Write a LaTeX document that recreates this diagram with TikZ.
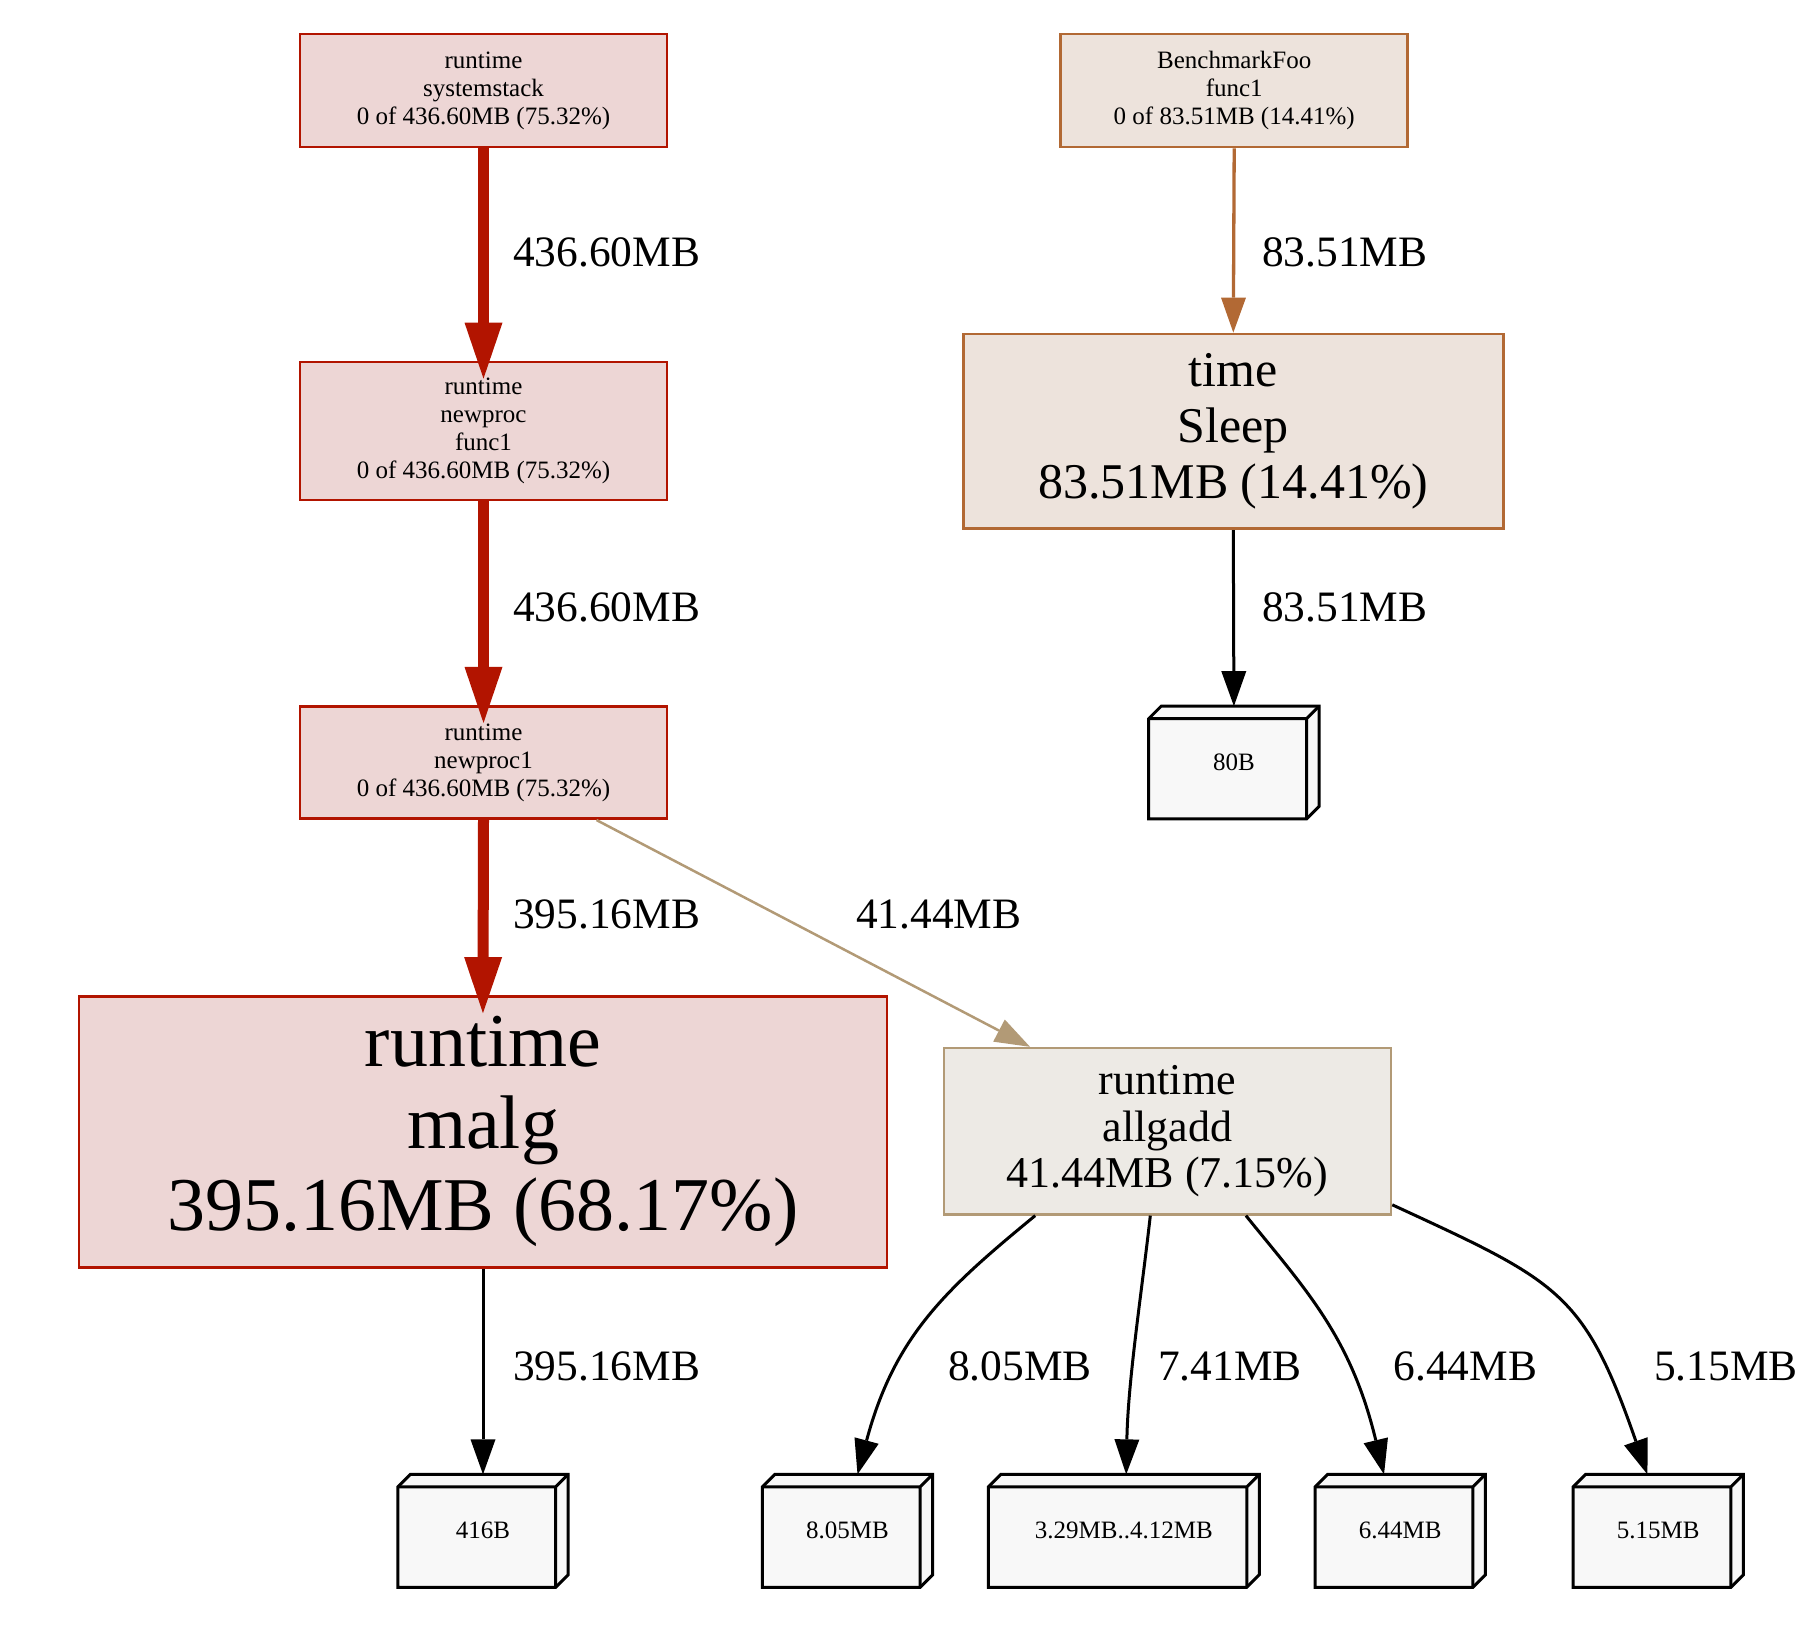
\documentclass[tikz,border=0pt]{standalone}
\usepackage{fontspec}
\setmainfont{Liberation Serif}
\usetikzlibrary{arrows.meta,calc}
\pgfdeclarelayer{background}
\pgfsetlayers{background,main}
\definecolor{hotred}{HTML}{B21400}
\definecolor{hotfill}{HTML}{EDD6D5}
\definecolor{warmline}{HTML}{B26934}
\definecolor{warmfill}{HTML}{EDE3DC}
\definecolor{tanline}{HTML}{B29A76}
\definecolor{tanfill}{HTML}{EDEAE5}
\definecolor{leaffill}{HTML}{F8F8F8}
\newcommand\leafbox[1]{%
  \begin{pgfonlayer}{background}
  \draw[line width=3pt, fill=leaffill, line join=miter]
    ([yshift=-12.5pt]#1.north west) -- ([xshift=12.5pt]#1.north west) -- (#1.north east)
    -- ([yshift=12.5pt]#1.south east) -- ([xshift=-12.5pt]#1.south east) -- (#1.south west) -- cycle;
  \draw[line width=3pt, line join=miter]
    ([yshift=-12.5pt]#1.north west) -- ([xshift=-12.5pt,yshift=-12.5pt]#1.north east) -- ([xshift=-12.5pt]#1.south east)
    ([xshift=-12.5pt,yshift=-12.5pt]#1.north east) -- (#1.north east);
  \end{pgfonlayer}}
\begin{document}
\begin{tikzpicture}[x=1pt,y=-1pt,
  fn/.style={draw, rectangle, inner sep=0pt, align=center, font=\fontsize{25}{28}\selectfont},
  hot/.style={fn, draw=hotred, fill=hotfill, line width=2.8pt},
  warm/.style={fn, draw=warmline, fill=warmfill, line width=2.8pt},
  tan/.style={fn, draw=tanline, fill=tanfill, line width=2.5pt},
  leaf/.style={rectangle, inner sep=0pt, minimum height=112.5pt, font=\fontsize{25}{28}\selectfont},
  elabel/.style={anchor=base west, inner sep=0pt, font=\fontsize{43.4}{50}\selectfont},
  hotedge/.style={draw=hotred, line width=11.7pt, -{Triangle[length=56pt,width=38pt,line width=0pt]}, shorten >=-18pt},
  thinedge/.style={line width=3pt, -{Triangle[length=35pt,width=25pt,line width=0pt]}},
]
\useasboundingbox (0,0) rectangle (1798,1633);

% nodes
\node[hot, minimum width=367pt, minimum height=113pt] (ss) at (483.5,90.5)
  {runtime\\systemstack\\0 of 436.60MB (75.32\%)};
\node[hot, minimum width=367pt, minimum height=138pt] (npf) at (483.5,431)
  {runtime\\newproc\\func1\\0 of 436.60MB (75.32\%)};
\node[hot, minimum width=367pt, minimum height=112.3pt] (np1) at (483.5,762.5)
  {runtime\\newproc1\\0 of 436.60MB (75.32\%)};
\node[hot, minimum width=808pt, minimum height=270.8pt, font=\fontsize{76}{82}\selectfont] (malg) at (483,1131.9)
  {runtime\\malg\\395.16MB (68.17\%)};
\node[warm, minimum width=347pt, minimum height=113pt] (bf) at (1234.2,90.5)
  {BenchmarkFoo\\func1\\0 of 83.51MB (14.41\%)};
\node[warm, minimum width=540pt, minimum height=194.6pt, font=\fontsize{50}{56}\selectfont] (sleep) at (1233.3,431.3)
  {time\\Sleep\\83.51MB (14.41\%)};
\node[tan, minimum width=447.3pt, minimum height=166.3pt, font=\fontsize{44}{46.7}\selectfont] (allgadd) at (1167.4,1131.2)
  {runtime\\allgadd\\41.44MB (7.15\%)};

\node[leaf, minimum width=170pt, minimum height=112.3pt] (b80) at (1233.9,762.5) {80B};
\node[leaf, minimum width=170pt] (b416) at (483,1530.8) {416B};
\node[leaf, minimum width=170pt] (b805) at (847.5,1530.8) {8.05MB};
\node[leaf, minimum width=270.6pt] (b329) at (1123.8,1530.8) {3.29MB..4.12MB};
\node[leaf, minimum width=170pt] (b644) at (1400.2,1530.8) {6.44MB};
\node[leaf, minimum width=170pt] (b515) at (1658.2,1530.8) {5.15MB};
\leafbox{b80}
\leafbox{b416}
\leafbox{b805}
\leafbox{b329}
\leafbox{b644}
\leafbox{b515}

% edges
\draw[hotedge] (ss.south) -- (npf.north);
\draw[hotedge] (npf.south) -- (np1.north);
\draw[hotedge, line width=11pt] (np1.south) -- (malg.north);
\draw[thinedge, draw=tanline, line width=2.5pt] ([xshift=113pt]np1.south) -- ([xshift=-137.4pt]allgadd.north);
\draw[thinedge, draw=warmline, line width=3.3pt] (bf.south) -- (sleep.north);
\draw[thinedge] (sleep.south) -- (b80.north);
\draw[thinedge] (malg.south) -- (b416.north);
\draw[thinedge] ([xshift=-132.2pt]allgadd.south) .. controls (945.1,1289.6) and (894.5,1336.3) .. ([xshift=10pt]b805.north);
\draw[thinedge] ([xshift=-17.1pt]allgadd.south) .. controls (1142,1290) and (1128,1380) .. ([xshift=2.4pt]b329.north);
\draw[thinedge] ([xshift=78.5pt]allgadd.south) .. controls (1305.7,1289.6) and (1350.7,1336.3) .. ([xshift=-16.2pt]b644.north);
\draw[thinedge] ([yshift=-73.6pt]allgadd.east) .. controls (1559,1281.8) and (1583.9,1291.7) .. ([xshift=-10.8pt]b515.north);

% edge labels
\node[elabel] (l1) at (513,266) {436.60MB};
\node[elabel] (l2) at (513,621) {436.60MB};
\node[elabel] (l3) at (513,928.3) {395.16MB};
\node[elabel] (l4) at (856,928.3) {41.44MB};
\node[elabel] (l5) at (513,1380) {395.16MB};
\node[elabel] (l6) at (1262,266) {83.51MB};
\node[elabel] (l7) at (1262,621) {83.51MB};
\node[elabel] (l8) at (948,1380) {8.05MB};
\node[elabel] (l9) at (1158,1380) {7.41MB};
\node[elabel] (l10) at (1393.5,1380) {6.44MB};
\node[elabel] (l11) at (1654,1380) {5.15MB};
\end{tikzpicture}
\end{document}
